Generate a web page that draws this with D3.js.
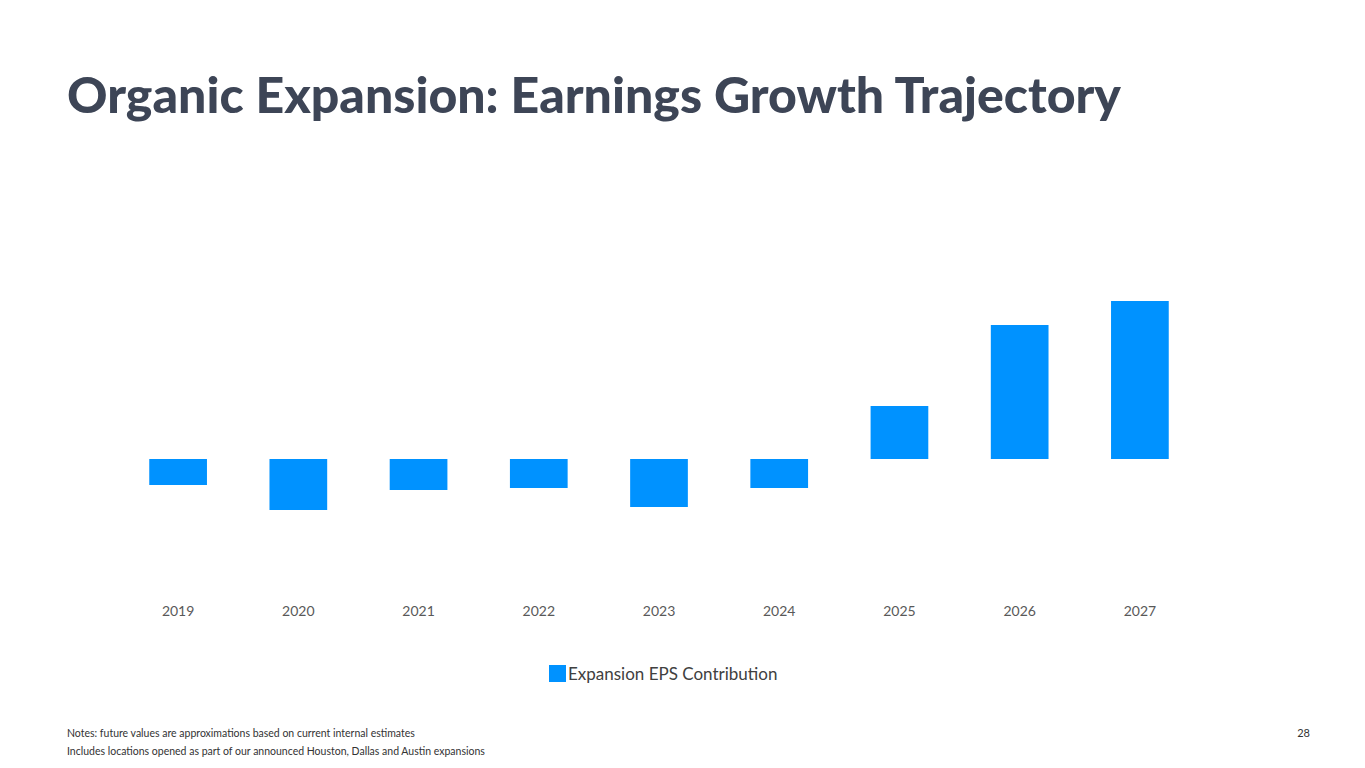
<!doctype html>
<html>
<head>
<script src="https://d3js.org/d3.v7.min.js"></script>
<style>
body { margin: 0; background: #fff; }
text { font-family: Lato, "Open Sans", sans-serif; }
</style>
</head>
<body>
<svg id="chart" width="1365" height="768"></svg>
<script>
var years = ["2019","2020","2021","2022","2023","2024","2025","2026","2027"];
var epsContribution = [-26, -51, -31, -29, -48, -29, 53, 134, 158];
var notes = ["Notes: future values are approximations based on current internal estimates",
             "Includes locations opened as part of our announced Houston, Dallas and Austin expansions"];

var svg = d3.select("#chart");
var blue = "#0092ff";

svg.append("text").attr("x", 67).attr("y", 113)
  .attr("font-size", 50).attr("font-weight", 900).attr("fill", "#3d4556")
  .text("Organic Expansion: Earnings Growth Trajectory");

var x = d3.scaleBand().domain(years).range([118, 1200]).paddingInner(0.52).paddingOuter(0.26);
var y = d3.scaleLinear().domain([-80, 180]).range([539, 279]);

svg.selectAll("rect.bar").data(epsContribution).enter().append("rect")
  .attr("class", "bar")
  .attr("x", function(d, i) { return x(years[i]); })
  .attr("width", x.bandwidth())
  .attr("y", function(d) { return y(Math.max(0, d)); })
  .attr("height", function(d) { return Math.abs(y(d) - y(0)); })
  .attr("fill", blue);

var axis = svg.append("g").attr("transform", "translate(0,600)")
  .call(d3.axisBottom(x).tickSize(0).tickPadding(6));
axis.select(".domain").remove();
axis.selectAll("text").attr("font-size", 14).attr("fill", "#595959")
  .attr("font-family", "Lato, sans-serif");

var lg = svg.append("g").attr("transform", "translate(549,665)");
lg.append("rect").attr("width", 17).attr("height", 17).attr("fill", blue);
lg.append("text").attr("x", 19).attr("y", 15).attr("font-size", 17).attr("fill", "#404040")
  .text("Expansion EPS Contribution");

svg.selectAll("text.note").data(notes).enter().append("text")
  .attr("class", "note").attr("x", 67).attr("y", function(d, i) { return 737 + i * 18; })
  .attr("font-size", 10.5).attr("fill", "#333").text(function(d) { return d; });

svg.append("text").attr("x", 1310).attr("y", 737).attr("text-anchor", "end")
  .attr("font-size", 11).attr("fill", "#333").text("28");
</script>
</body>
</html>
